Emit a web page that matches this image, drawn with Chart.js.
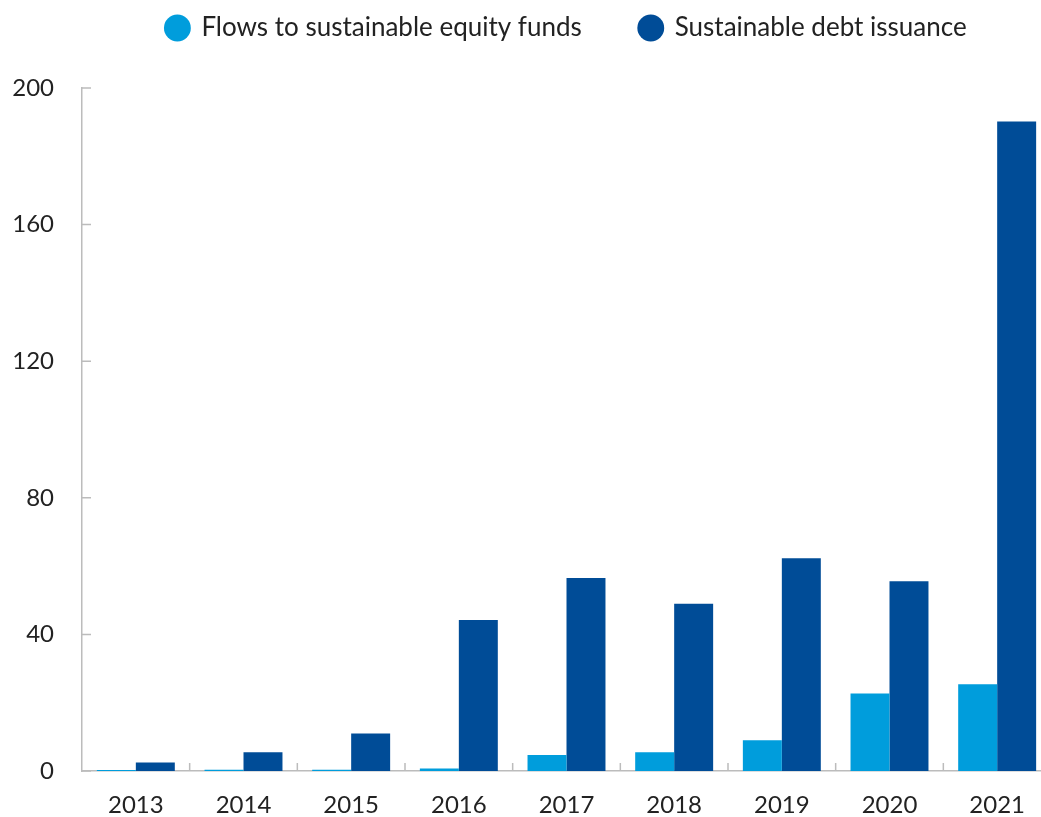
<!DOCTYPE html>
<html>
<head>
<meta charset="utf-8">
<script src="https://cdn.jsdelivr.net/npm/chart.js@4"></script>
<style>
  html, body { margin: 0; padding: 0; background: #fff; overflow: hidden; }
  #wrap { width: 1051px; height: 817px; }
</style>
</head>
<body>
<div id="wrap"><canvas id="myChart" width="1051" height="817"></canvas></div>
<script>
var years = ['2013', '2014', '2015', '2016', '2017', '2018', '2019', '2020', '2021'];
var equityFlows = [0.3, 0.4, 0.4, 0.7, 4.7, 5.5, 9.0, 22.7, 25.4];
var debtIssuance = [2.5, 5.5, 11.0, 44.2, 56.5, 49.0, 62.3, 55.6, 190.2];
var yTicks = [0, 40, 80, 120, 160, 200];

var axisColor = '#bcbcbc';
var textColor = '#222222';
var fontFamily = 'Lato, "Noto Sans", sans-serif';

// legend height so the plot starts at y = 88
const legendFit = {
    id: 'legendFit',
    beforeInit(chart) {
        const fit = chart.legend.fit;
        chart.legend.fit = function () {
            fit.bind(chart.legend)();
            this.height = 131;
        };
    }
};

// short inward tick marks on both axes
const innerTicks = {
    id: 'innerTicks',
    afterDraw(chart) {
        const ctx = chart.ctx;
        const area = chart.chartArea;
        const x = chart.scales.x;
        const y = chart.scales.y;
        ctx.save();
        ctx.strokeStyle = axisColor;
        ctx.lineWidth = 1.5;
        ctx.beginPath();
        yTicks.forEach(v => {
            const py = y.getPixelForValue(v);
            ctx.moveTo(area.left, py);
            ctx.lineTo(area.left + 9, py);
        });
        for (let i = 1; i < years.length; i++) {
            const px = (x.getPixelForValue(i - 1) + x.getPixelForValue(i)) / 2;
            ctx.moveTo(px, area.bottom);
            ctx.lineTo(px, area.bottom - 8);
        }
        ctx.stroke();
        ctx.restore();
    }
};

const data = {
    labels: years,
    datasets: [{
        label: 'Flows to sustainable equity funds',
        backgroundColor: '#009ddc',
        data: equityFlows,
        categoryPercentage: 0.724,
        barPercentage: 1.0
    }, {
        label: 'Sustainable debt issuance',
        backgroundColor: '#004c97',
        data: debtIssuance,
        categoryPercentage: 0.724,
        barPercentage: 1.0
    }]
};

const config = {
    type: 'bar',
    data: data,
    options: {
        responsive: false,
        animation: false,
        layout: { padding: { top: -43, right: 0, bottom: 0, left: 0 } },
        plugins: {
            legend: {
                position: 'top',
                fullSize: false,
                labels: {
                    usePointStyle: true,
                    pointStyle: 'circle',
                    boxWidth: 22,
                    boxHeight: 19,
                    padding: 58,
                    color: textColor,
                    font: { family: fontFamily, size: 26, lineHeight: 1 }
                }
            },
            tooltip: { enabled: false }
        },
        scales: {
            x: {
                grid: { display: false, drawTicks: false },
                border: { color: axisColor, width: 1.5 },
                ticks: {
                    color: textColor,
                    padding: 20,
                    font: { family: fontFamily, size: 24 }
                },
                afterFit(scale) { scale.height = 46; }
            },
            y: {
                min: 0,
                max: 200,
                grid: { display: false, drawTicks: false },
                border: { color: axisColor, width: 1.5 },
                afterBuildTicks(scale) {
                    scale.ticks = yTicks.map(v => ({ value: v }));
                },
                ticks: {
                    color: textColor,
                    padding: 28,
                    font: { family: fontFamily, size: 24 }
                },
                afterFit(scale) { scale.width = 82; }
            }
        }
    },
    plugins: [legendFit, innerTicks]
};

const myChart = new Chart(document.getElementById('myChart'), config);
</script>
</body>
</html>
